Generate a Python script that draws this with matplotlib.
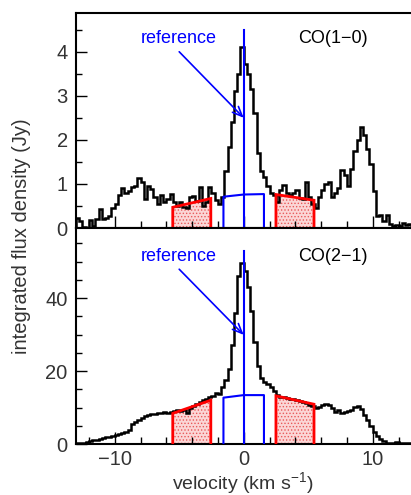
import numpy as np
import matplotlib
matplotlib.use("Agg")
import matplotlib.pyplot as plt

plt.rcParams['font.family'] = ['Liberation Sans', 'DejaVu Sans']
plt.rcParams['mathtext.fontset'] = 'custom'
plt.rcParams['mathtext.rm'] = 'Liberation Sans'
plt.rcParams['mathtext.it'] = 'Liberation Sans'
plt.rcParams['hatch.linewidth'] = 0.6

# ---- data ----
v_start = -13.0
v_step = 0.25

co10 = [0.22, 0.15, 0.02, 0.0, 0.18, 0.05, 0.2, 0.43, 0.2, 0.22, 0.28, 0.45, 0.55,
        0.75, 0.9, 0.8, 0.85, 0.93, 0.95, 1.13, 1.05, 0.65, 0.95, 0.88, 0.7, 0.55,
        0.76, 0.6, 0.66, 0.78, 0.6, 0.5, 0.58, 0.48, 0.45, 0.7, 0.72, 0.62, 0.94,
        0.5, 0.6, 0.92, 0.8, 0.63, 0.55, 0.7, 1.3, 1.84, 2.4, 3.1, 3.5, 4.1,
        3.73, 3.5, 3.15, 2.6, 1.7, 1.3, 1.16, 0.96, 0.8, 0.75, 0.6, 0.86, 0.98,
        0.8, 0.75, 0.8, 0.86, 0.67, 0.65, 1.05, 0.7, 0.55, 0.45, 0.7, 0.86, 1.0,
        1.05, 0.7, 0.8, 0.9, 1.32, 1.2, 0.95, 1.35, 1.75, 2.0, 2.3, 2.1, 1.8,
        1.45, 0.85, 0.28, 0.3, 0.15, 0.3, 0.1, 0.05, 0.07, 0.05, 0.12, 0.06, 0.1]

co21 = [0.2, 0.3, 0.4, 0.6, 0.9, 1.1, 1.2, 1.5, 1.6, 2.0, 1.9, 2.2, 2.5, 2.7, 3.0,
        3.4, 3.8, 5.6, 6.1, 6.5, 7.2, 7.6, 7.9, 8.3, 8.2, 8.6, 8.4, 8.8, 8.5, 8.8,
        9.0, 9.2, 9.0, 9.3, 8.6, 10.0, 10.5, 11.1, 11.6, 12.1, 12.2, 12.8, 13.2,
        13.9, 13.6, 15.5, 17.5, 20.5, 27.0, 36.0, 46.0, 49.5, 47.5, 43.0, 36.5,
        28.0, 21.5, 18.0, 17.0, 16.4, 15.5, 14.5, 13.5, 13.0, 12.8, 12.6, 12.4,
        12.2, 12.0, 11.8, 11.5, 11.2, 10.8, 10.5, 9.8, 10.2, 10.6, 11.1, 10.6,
        9.8, 8.9, 9.3, 8.6, 8.9, 9.0, 9.3, 10.2, 10.5, 9.5, 8.0, 6.5, 4.8, 3.2,
        2.2, 1.3, 0.7, 0.4, 0.4, 0.3, 0.5, 0.3, 0.2, 0.2, 0.2]

# baseline fit regions (velocity edges) and fitted heights at those edges
red_left_v = [-5.5, -2.55]
red_right_v = [2.5, 5.45]
box_v = [-1.57, 0.0, 1.57]
top_red_left = [0.47, 0.67]
top_red_right = [0.76, 0.63]
top_box = [0.71, 0.76, 0.77]
bot_red_left = [8.4, 12.0]
bot_red_right = [13.2, 10.9]
bot_box = [12.7, 13.4, 13.4]

labels = ["CO(1−0)", "CO(2−1)"]

# ---- figure ----
W, H = 411, 495
fig = plt.figure(figsize=(W / 100, H / 100), dpi=100)
left = 76 / W
width = 26 * 12.9 / W
ax1 = fig.add_axes([left, 1 - 228 / H, width, 215 / H])
ax2 = fig.add_axes([left, 1 - 444 / H, width, 216 / H])

edges = v_start + v_step * np.arange(len(co10) + 1)

txtc = '#333333'
panels = [
    (ax1, co10, top_red_left, top_red_right, top_box, 4.88, 4.5, (-5.0, 4.0), 2.5, 4.3, 1, 0.5),
    (ax2, co21, bot_red_left, bot_red_right, bot_box, 59.2, 53.0, (-5.0, 47.9), 29.9, 51.3, 20, 5),
]

for i, (ax, spec, rl, rr, bx, ytop, vline_top, astart, atip, ty, maj, mnr) in enumerate(panels):
    for rv, rt in ((red_left_v, rl), (red_right_v, rr)):
        ax.fill_between(rv, [0, 0], rt, facecolor='#fbd6d6', edgecolor='#e85a5a',
                        hatch='.....', linewidth=0, zorder=1)
    ax.stairs(spec, edges, color='black', lw=1.8, zorder=2)
    for rv, rt in ((red_left_v, rl), (red_right_v, rr)):
        ax.plot([rv[0], rv[0], rv[1], rv[1]], [0, rt[0], rt[1], 0],
                color='red', lw=2.0, zorder=3, solid_joinstyle='miter')
    ax.plot([box_v[0]] + box_v + [box_v[-1]], [0] + bx + [0], color='blue', lw=1.5, zorder=4)
    ax.plot([0, 0], [0, vline_top], color='blue', lw=1.5, zorder=4)
    ax.annotate('', xy=(0, atip), xytext=astart,
                arrowprops=dict(arrowstyle='->,head_length=0.7,head_width=0.3',
                                color='blue', lw=1.2, shrinkA=0, shrinkB=0), zorder=5)
    ax.text(-5.0, ty, 'reference', color='blue', fontsize=13, ha='center', va='center')
    ax.text(6.95, ty, labels[i], color='black', fontsize=13, ha='center', va='center')

    ax.set_xlim(-13, 13)
    ax.set_ylim(0, ytop)
    ax.set_xticks([-10, 0, 10])
    ax.set_xticks(np.arange(-12, 13, 2), minor=True)
    ax.set_yticks(np.arange(0, ytop, maj))
    ax.set_yticks(np.arange(0, ytop, mnr), minor=True)
    ax.tick_params(axis='both', which='both', direction='in', top=False, right=False,
                   labelsize=14.5, labelcolor=txtc)
    ax.tick_params(axis='x', which='major', length=9, width=1, pad=4)
    ax.tick_params(axis='x', which='minor', length=5, width=1)
    ax.tick_params(axis='y', which='major', length=8, width=1, pad=6)
    ax.tick_params(axis='y', which='minor', length=4, width=1)
    ax.spines['right'].set_visible(False)
    for s in ('left', 'top', 'bottom'):
        ax.spines[s].set_linewidth(1.5)

ax1.tick_params(axis='x', labelbottom=False)
fig.text(243 / W, 1 - 483 / H, r'velocity (km s$^{-1}$)', fontsize=14, color=txtc,
         ha='center', va='center')
fig.text(22 / W, 1 - 236 / H, 'integrated flux density (Jy)', rotation=90,
         fontsize=14.5, color=txtc, ha='center', va='center')

fig.savefig('out.png', dpi=100)
